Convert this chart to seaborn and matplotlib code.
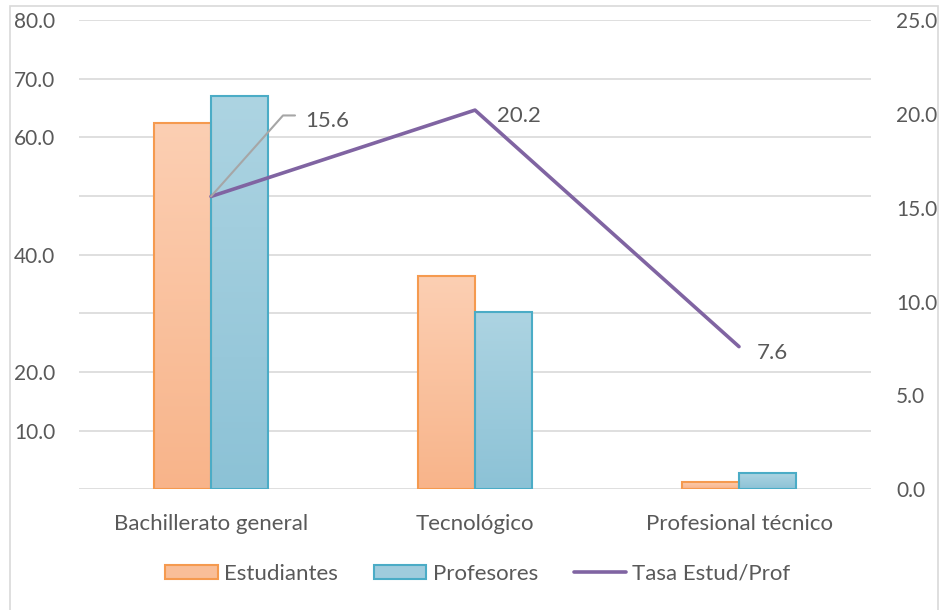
import numpy as np
import pandas as pd
import matplotlib
matplotlib.use("Agg")
import matplotlib.pyplot as plt
import seaborn as sns
from matplotlib.lines import Line2D
from matplotlib.patches import Patch, Rectangle
from matplotlib.ticker import FuncFormatter, FixedLocator

categories = ["Bachillerato general", "Tecnológico", "Profesional técnico"]
estudiantes = [62.5, 36.3, 1.3]
profesores = [67.1, 30.2, 2.7]
tasa = [15.6, 20.2, 7.6]
series_names = ["Estudiantes", "Profesores", "Tasa Estud/Prof"]
left_ticks = [0, 10, 20, 30, 40, 50, 60, 70, 80]
left_shown = [10, 20, 40, 60, 70, 80]
right_ticks = [0, 5, 10, 15, 20, 25]

sns.set_theme(style="white")
plt.rcParams['font.family'] = ['Lato', 'DejaVu Sans']
GREY = "#595959"
FS = 15
FS2 = 16

W, H = 941, 610
fig = plt.figure(figsize=(W / 100, H / 100), dpi=100)
L, R, T, B = 79, 871, 20, 489.3
ax = fig.add_axes([L / W, 1 - B / H, (R - L) / W, (B - T) / H])

df = pd.DataFrame({
    "cat": categories * 2,
    "val": estudiantes + profesores,
    "serie": [series_names[0]] * 3 + [series_names[1]] * 3,
})
fills = ["#F9BE98", "#A0CCDD"]
edges = ["#F59A4F", "#4BACC6"]
tops = ["#FCCFB3", "#ADD4E2"]
bots = ["#F8B48A", "#8CC2D6"]
sns.barplot(data=df, x="cat", y="val", hue="serie", palette=fills, width=0.43,
            ax=ax, legend=False, saturation=1, zorder=3)

# gradient fill
for ci, cont in enumerate(ax.containers):
    for bar in cont:
        bar.set_edgecolor(edges[ci])
        bar.set_linewidth(1.5)
        x0, y0 = bar.get_x(), bar.get_y()
        w, h = bar.get_width(), bar.get_height()
        c1 = np.array(matplotlib.colors.to_rgb(tops[ci]))
        c2 = np.array(matplotlib.colors.to_rgb(bots[ci]))
        t = np.linspace(0, 1, 100)[:, None]
        grad = (c1 * (1 - t) + c2 * t)[:, None, :]
        im = ax.imshow(grad, extent=[x0, x0 + w, y0, y0 + h], aspect="auto",
                       origin="upper", zorder=3.5, interpolation="bilinear")
        im.set_clip_path(bar)
        bar.set_facecolor("none")
        bar.set_zorder(4)
ax.set_xlim(-0.5, 2.5)
ax.set_ylim(0, 80)

ax.yaxis.set_major_locator(FixedLocator(left_ticks))
ax.yaxis.set_major_formatter(FuncFormatter(lambda v, p: f"{v:.1f}" if round(v) in left_shown else ""))
ax.grid(axis="y", color="#D9D9D9", linewidth=1.2, zorder=0)
ax.set_axisbelow(True)
for s in ax.spines.values():
    s.set_visible(False)
ax.tick_params(axis="y", length=0, pad=17, labelsize=FS, labelcolor=GREY)
ax.tick_params(axis="x", length=0, pad=18, labelsize=FS2, labelcolor=GREY)
ax.set_xlabel("")
ax.set_ylabel("")

ax2 = ax.twinx()
sns.lineplot(x=[0, 1, 2], y=tasa, ax=ax2, color="#8064A2", linewidth=2.6, zorder=5)
ax2.set_ylim(0, 25)
ax2.set_yticks(right_ticks)
ax2.yaxis.set_major_formatter(FuncFormatter(lambda v, p: f"{v:.1f}"))
ax2.tick_params(axis="y", length=0, pad=18, labelsize=FS, labelcolor=GREY)
for s in ax2.spines.values():
    s.set_visible(False)
ax2.set_xlim(-0.5, 2.5)

# data labels
fig.canvas.draw()
offsets = [(94, 75), (22, -6), (18, -6)]
for i, v in enumerate(tasa):
    dx, dy = offsets[i]
    ax2.annotate(f"{v:.1f}", xy=(i, v), xytext=(dx, dy), textcoords="offset pixels",
                 ha="left", va="center", fontsize=FS2, color=GREY, zorder=6)
# leader line for first label
px, py = ax2.transData.transform((0, tasa[0]))
ax2.add_line(Line2D([px, px + 72, px + 84], [py, py + 81, py + 81], transform=None,
                    color="#A6A6A6", linewidth=1.5, zorder=6))

# legend
handles = [
    Patch(facecolor=fills[0], edgecolor=edges[0], linewidth=1.5),
    Patch(facecolor=fills[1], edgecolor=edges[1], linewidth=1.5),
    Line2D([0], [0], color="#8064A2", linewidth=2.6),
]
fig.legend(handles, series_names, loc="center", bbox_to_anchor=(478 / W, 1 - 574 / H), ncol=3,
           frameon=False, fontsize=FS2, labelcolor=GREY, handlelength=2.35, handleheight=0.63,
           columnspacing=1.6, handletextpad=0.3)

# chart border
fig.patches.append(Rectangle((10 / W, -0.01), 928 / W, 1 - 6 / H + 0.01, transform=fig.transFigure,
                             fill=False, edgecolor="#D9D9D9", linewidth=1.2))

fig.savefig("out.png", dpi=100)
